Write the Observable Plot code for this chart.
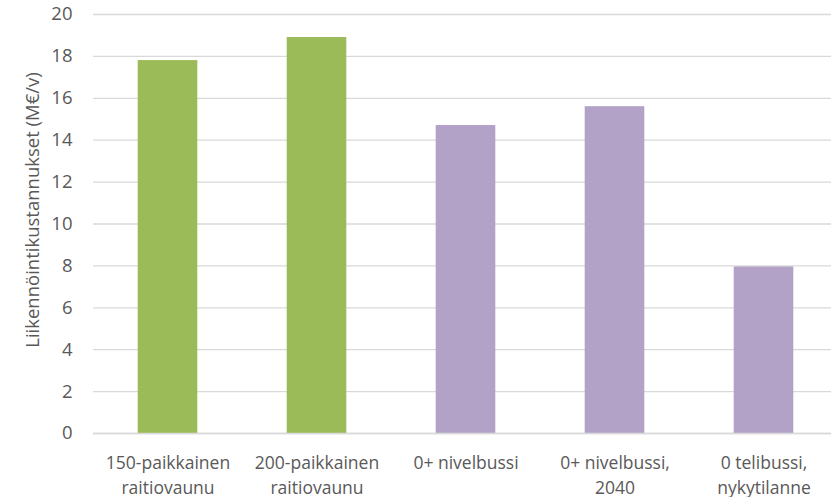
<!DOCTYPE html>
<html>
<head>
<meta charset="utf-8">
<script src="https://cdn.jsdelivr.net/npm/d3@7"></script>
<script src="https://cdn.jsdelivr.net/npm/@observablehq/plot@0.6"></script>
<style>
  html, body { margin: 0; padding: 0; background: #fff; overflow: hidden; width: 831px; height: 497px; }
  #chart { width: 831px; height: 497px; overflow: hidden; }
</style>
</head>
<body>
<div id="chart"></div>
<script>
const categories = [
  "150-paikkainen\nraitiovaunu",
  "200-paikkainen\nraitiovaunu",
  "0+ nivelbussi",
  "0+ nivelbussi,\n2040",
  "0 telibussi,\nnykytilanne"
];
const values = [17.8, 18.9, 14.7, 15.6, 7.95];
const groups = ["raitiovaunu", "raitiovaunu", "bussi", "bussi", "bussi"];
const groupColors = ["#9BBB59", "#B3A2C7"];
const yTicks = [0, 2, 4, 6, 8, 10, 12, 14, 16, 18, 20];
const yLabel = "Liikennöintikustannukset (M€/v)";

const data = categories.map((c, i) => ({ category: c, value: values[i], group: groups[i] }));

const chart = Plot.plot({
  width: 838,
  height: 497,
  marginLeft: 93,
  marginRight: 0,
  marginTop: 14,
  marginBottom: 64,
  style: { fontFamily: "'Open Sans', sans-serif", fontSize: "17px", color: "#595959", background: "#fff", overflow: "visible", maxWidth: "none" },
  x: { domain: categories, paddingInner: 0.6, paddingOuter: 0.3, round: false, label: null },
  y: { domain: [0, 20], label: null },
  color: { domain: ["raitiovaunu", "bussi"], range: groupColors },
  marks: [
    Plot.gridY(yTicks, { stroke: "#d9d9d9", strokeOpacity: 1, strokeWidth: 1.3 }),
    Plot.barY(data, { x: "category", y: "value", fill: "group" }),
    Plot.ruleY([0], { stroke: "#d9d9d9", strokeWidth: 1.3 }),
    Plot.axisY(yTicks, { tickSize: 0, tickPadding: 21, fontSize: 18.5, label: null }),
    Plot.text([yLabel], { frameAnchor: "left", textAnchor: "middle", rotate: -90, dx: -60, dy: -14, fontSize: 18.5, fill: "#595959" }),
    Plot.axisX({ tickSize: 0, tickPadding: 18, fontSize: 17.5, lineHeight: 1.42, label: null })
  ]
});
document.getElementById("chart").appendChild(chart);
</script>
</body>
</html>
